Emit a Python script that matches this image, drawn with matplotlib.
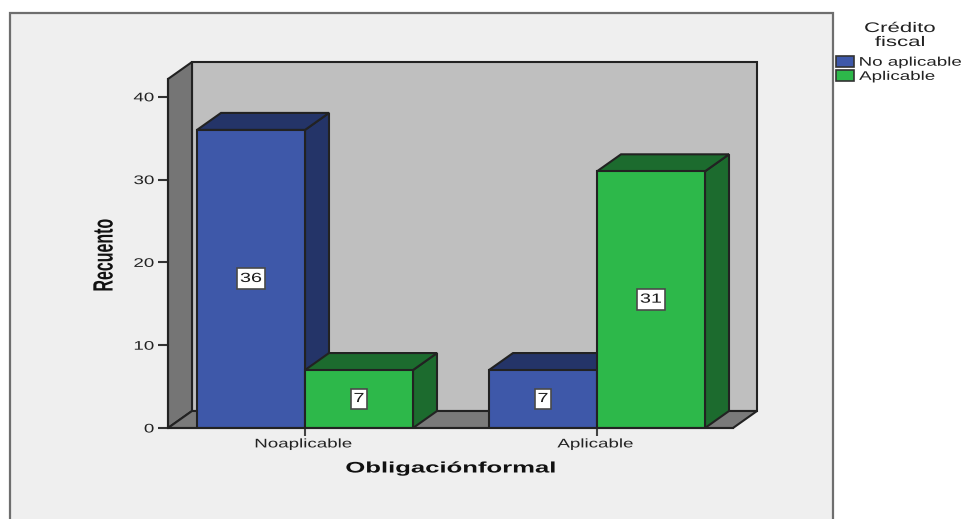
import matplotlib
matplotlib.use('Agg')
import matplotlib.pyplot as plt
from matplotlib.patches import Polygon, Rectangle, Patch
from matplotlib.patheffects import AbstractPathEffect
from matplotlib.transforms import Affine2D

categories = ['Noaplicable', 'Aplicable']
series_names = ['No aplicable', 'Aplicable']
no_aplicable = [36, 7]
aplicable = [7, 31]
y_ticks = [0, 10, 20, 30, 40]

W, H = 963, 519
plt.rcParams['font.family'] = ['Liberation Sans', 'DejaVu Sans']
fig = plt.figure(figsize=(W / 100, H / 100), dpi=100, facecolor='white')


# the reference was stretched sideways, so the text gets stretched as well
class Stretch(AbstractPathEffect):
    def __init__(self, sx=1.5, anchor='center', shift=0, sy=1):
        super().__init__()
        self.sx = sx
        self.sy = sy
        self.anchor = anchor
        self.shift = shift

    def draw_path(self, renderer, gc, tpath, affine, rgbFace=None):
        box = tpath.get_extents(affine)
        cx = {'center': (box.x0 + box.x1) / 2, 'left': box.x0, 'right': box.x1}[self.anchor]
        cy = (box.y0 + box.y1) / 2
        stretched = affine + Affine2D().translate(-cx, -cy).scale(self.sx, self.sy).translate(cx + self.shift, cy)
        renderer.draw_path(gc, tpath, stretched, rgbFace)


# grey panel behind everything, it runs off the bottom of the picture
fig.add_artist(Rectangle((10 / W, -0.02), 823 / W, 1 - 13 / H + 0.02, transform=fig.transFigure,
                         facecolor='#efefef', edgecolor='#6e6e6e', linewidth=1.6, zorder=-1))

# axes cover the front plane of the fake 3d box
ax = fig.add_axes([168 / W, 1 - 428 / H, 565 / W, 349 / H])
ax.patch.set_visible(False)
px_x = 292.0  # pixels per category
px_y = 8.28   # pixels per count
ax.set_xlim(-137 / px_x, 428 / px_x)
ax.set_ylim(0, 349 / px_y)
dx = 24 / px_x
dy = 17 / px_y
bar_w = 108 / px_x
edge = '#222222'
x0, x1 = ax.get_xlim()
ytop = ax.get_ylim()[1]


def poly(pts, color, z):
    ax.add_patch(Polygon(pts, closed=True, facecolor=color, edgecolor=edge, linewidth=1.5,
                         joinstyle='miter', zorder=z, clip_on=False))


# walls and floor
poly([(x0 + dx, dy), (x1 + dx, dy), (x1 + dx, ytop + dy), (x0 + dx, ytop + dy)], '#bfbfbf', 1)
poly([(x0, 0), (x0 + dx, dy), (x0 + dx, ytop + dy), (x0, ytop)], '#757575', 1.5)
poly([(x0, 0), (x0 + dx, dy), (x1 + dx, dy), (x1, 0)], '#7a7a7a', 1.5)


def bar3d(left, value, front, dark, z):
    right = left + bar_w
    poly([(right, 0), (right + dx, dy), (right + dx, value + dy), (right, value)], dark, z)
    poly([(left, value), (left + dx, value + dy), (right + dx, value + dy), (right, value)], dark, z)
    ax.bar(left, value, width=bar_w, align='edge', color=front, edgecolor=edge, linewidth=1.5, zorder=z + 0.1)
    lab = ax.text(left + bar_w / 2, value / 2, str(value), ha='center', va='center', fontsize=9.5, color='#1a1a1a',
                  zorder=10, path_effects=[Stretch(1.5)],
                  bbox=dict(boxstyle='square,pad=0.18', facecolor='white', edgecolor='#4a4a4a', linewidth=1.2))
    lab.get_bbox_patch().set_path_effects([Stretch(1.4, sy=1.25)])


for i in range(len(categories)):
    bar3d(i - bar_w, no_aplicable[i], '#3e58a9', '#243468', 3 + i * 2)
    bar3d(i, aplicable[i], '#2db84a', '#1c6b2e', 4 + i * 2)

for s in ax.spines.values():
    s.set_visible(False)
ax.set_xticks(range(len(categories)))
ax.set_xticklabels(categories, fontsize=9, color='#222222')
ax.set_yticks(y_ticks)
ax.set_yticklabels(y_ticks, fontsize=9, color='#222222')
ax.tick_params(axis='x', length=6, width=1.5, color='#444444', pad=1.5)
ax.tick_params(axis='y', length=7, width=1.5, color='#333333', pad=3)
for t in ax.get_xticklabels():
    t.set_path_effects([Stretch(1.5, shift=-1.5)])
for t in ax.get_yticklabels():
    t.set_path_effects([Stretch(1.5, 'right')])
ax.plot([x0, x1], [0, 0], color=edge, linewidth=1.5, zorder=9, clip_on=False)
ax.plot([x0, x0], [0, ytop], color=edge, linewidth=1.5, zorder=9, clip_on=False)

fig.text(451 / W, 1 - 468.5 / H, 'Obligaciónformal', ha='center', va='center', fontsize=11, fontweight='bold',
         color='#111111', path_effects=[Stretch(1.68)])
fig.text(104 / W, 1 - 255 / H, 'Recuento', ha='center', va='center', rotation=90, fontsize=11.5, fontweight='bold',
         color='#111111', path_effects=[Stretch(1.75)])
fig.text(900 / W, 1 - 35 / H, 'Crédito\nfiscal', ha='center', va='center', multialignment='center', fontsize=10,
         linespacing=1.0, color='#222222', path_effects=[Stretch(1.6)])

handles = [Patch(facecolor='#3e58a9', edgecolor='#333333', linewidth=1.2),
           Patch(facecolor='#2db84a', edgecolor='#333333', linewidth=1.2)]
leg = fig.legend(handles, series_names, loc='upper left',
                 bbox_to_anchor=(836 / W, 1 - 56 / H), borderaxespad=0, borderpad=0, frameon=False,
                 fontsize=9, handlelength=1.45, handleheight=0.95, handletextpad=0.4,
                 labelspacing=0.12)
for t in leg.get_texts():
    t.set_color('#222222')
    t.set_path_effects([Stretch(1.5, 'left')])

fig.savefig('out.png', dpi=100)
